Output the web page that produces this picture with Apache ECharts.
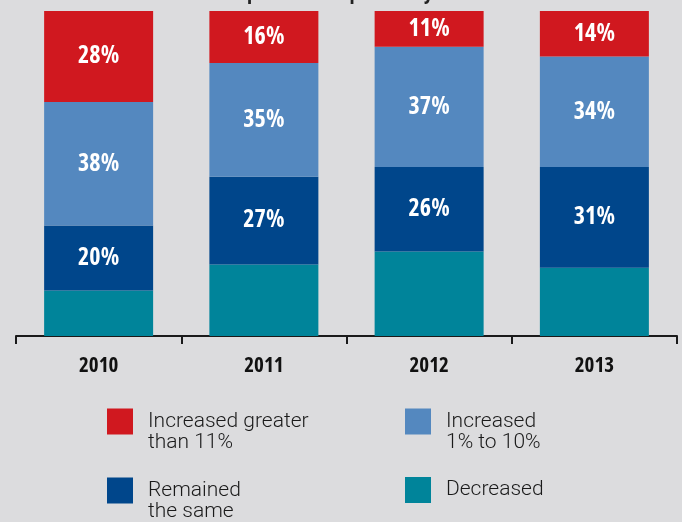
<!DOCTYPE html>
<html>
<head>
<meta charset="utf-8">
<script src="https://cdn.jsdelivr.net/npm/echarts@6/dist/echarts.min.js"></script>
<style>
html,body{margin:0;padding:0;background:#dcdcde;}
#c{width:682px;height:522px;}
</style>
</head>
<body>
<div id="c"></div>
<script>
const years = ['2010', '2011', '2012', '2013'];
const decreased = [14, 22, 26, 21];
const remainedSame = [20, 27, 26, 31];
const increased1to10 = [38, 35, 37, 34];
const increasedOver11 = [28, 16, 11, 14];

const names = ['Increased greater\nthan 11%', 'Increased\n1% to 10%', 'Remained\nthe same', 'Decreased'];
const colors = ['#d0181f', '#5488bf', '#00468b', '#00849a'];
const titleText = 'compared to the previous year';

// choose the narrowest installed bold face for the condensed labels
const ctx = document.createElement('canvas').getContext('2d');
function w(font, txt) { ctx.font = font; return ctx.measureText(txt).width; }
const probe = '2010 28% abcdefg';
const mono = w('bold 100px monospace', probe);
const candidates = [
  { weight: 'bold', fam: '"Liberation Sans Narrow"' },
  { weight: 'bold extra-condensed', fam: '"Noto Sans"' },
  { weight: 'bold condensed', fam: '"Noto Sans"' },
  { weight: 'bold condensed', fam: '"Open Sans"' },
  { weight: 'bold condensed', fam: '"DejaVu Sans"' },
  { weight: 'bold', fam: '"DejaVu Sans Condensed"' },
  { weight: 'bold', fam: 'Roboto' },
  { weight: 'bold', fam: '"Liberation Sans"' }
];
let best = null;
candidates.forEach(c => {
  const wm = w(c.weight + ' 100px ' + c.fam + ', monospace', probe);
  if (Math.abs(wm - mono) < 0.5) return; // not installed
  if (c.weight !== 'bold') {
    const plain = w('bold 100px ' + c.fam + ', monospace', probe);
    if (Math.abs(plain - wm) < 0.5) return; // stretch not available
  }
  const pw = w(c.weight + ' 100px ' + c.fam + ', sans-serif', '28%');
  if (!best || pw < best.pw) best = Object.assign({ pw: pw }, c);
});
if (!best) best = { weight: 'bold', fam: '"Liberation Sans"', pw: w('bold 100px "Liberation Sans"', '28%') };
const narrowFam = best.fam + ', sans-serif';
const narrowWeight = best.weight;
const yearW = w(narrowWeight + ' 100px ' + narrowFam, '2010');
const barLabelSize = Math.min(26, Math.round(41 * 100 / best.pw));
const axisLabelSize = Math.min(21, Math.round(39 * 100 / yearW));
const titleX = 247 - w(narrowWeight + ' ' + axisLabelSize + 'px ' + narrowFam, 'com');

const labelStyle = {
  show: true,
  position: 'inside',
  color: '#ffffff',
  fontFamily: narrowFam,
  fontWeight: narrowWeight,
  fontSize: barLabelSize,
  formatter: p => p.value + '%'
};

function mkSeries(name, data, color, showLabel) {
  return {
    name: name,
    type: 'bar',
    stack: 'total',
    data: data,
    barWidth: 109,
    itemStyle: { color: color },
    label: showLabel ? labelStyle : { show: false },
    emphasis: { disabled: true }
  };
}

const legendText = {
  fontFamily: 'Roboto, "Liberation Sans", sans-serif',
  fontWeight: 300,
  fontSize: 21,
  color: '#1a1a1a',
  lineHeight: 21,
  padding: [0, 0, 0, 10]
};
function mkLegend(name, left, top, twoLines) {
  return {
    data: [name],
    left: left,
    top: top,
    itemWidth: 26,
    itemHeight: 26,
    itemGap: 0,
    padding: 0,
    icon: 'rect',
    selectedMode: false,
    formatter: twoLines ? (n => '\n' + n) : (n => n),
    textStyle: legendText
  };
}

const chart = echarts.init(document.getElementById('c'));
chart.setOption({
  backgroundColor: '#dcdcde',
  animation: false,
  graphic: [{
    type: 'text',
    x: titleX,
    y: 4,
    style: {
      text: titleText,
      fontFamily: narrowFam,
      fontWeight: narrowWeight,
      fontSize: axisLabelSize,
      fill: '#222',
      verticalAlign: 'bottom'
    }
  }],
  grid: { left: 16, right: 5, top: 11, bottom: 186 },
  xAxis: {
    type: 'category',
    data: years,
    axisLine: { lineStyle: { color: '#1a1a1a', width: 2 } },
    axisTick: { show: true, length: 8, lineStyle: { color: '#1a1a1a', width: 2 } },
    axisLabel: {
      margin: 20,
      color: '#111',
      fontFamily: narrowFam,
      fontWeight: narrowWeight,
      fontSize: axisLabelSize
    }
  },
  yAxis: {
    type: 'value',
    min: 0,
    max: 100,
    show: false
  },
  legend: [
    mkLegend(names[0], 107, 390, true),
    mkLegend(names[1], 405, 390, true),
    mkLegend(names[2], 107, 459, true),
    mkLegend(names[3], 405, 477, false)
  ],
  series: [
    mkSeries(names[3], decreased, colors[3], false),
    mkSeries(names[2], remainedSame, colors[2], true),
    mkSeries(names[1], increased1to10, colors[1], true),
    mkSeries(names[0], increasedOver11, colors[0], true)
  ]
});
</script>
</body>
</html>
